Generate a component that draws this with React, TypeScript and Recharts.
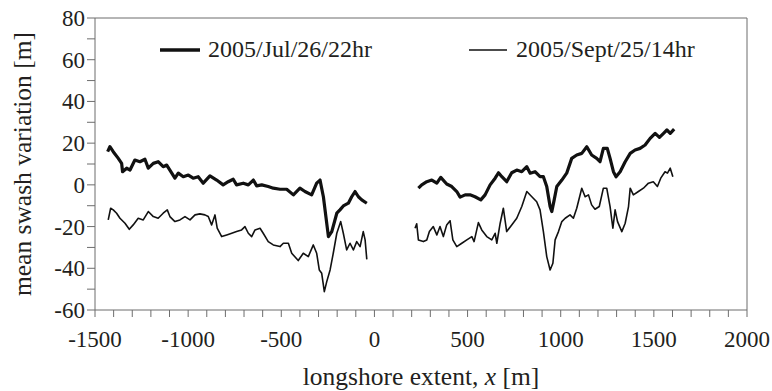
import React from "react";
import {
  LineChart,
  Line,
  XAxis,
  YAxis,
  ReferenceLine,
  Legend,
} from "recharts";

// longshore position [m] and mean swash variation [m], west and east stretches
const julWestX = [
  -1432, -1420, -1402, -1375, -1357, -1352, -1330, -1312, -1286, -1259, -1232, -1214, -1187, -1161, -1134,
  -1115, -1098, -1071, -1053, -1026, -999, -973, -946, -919, -883, -847, -812, -785, -758, -740,
  -704, -677, -650, -632, -605, -570, -543, -507, -471, -435, -400, -373, -337, -310, -292,
  -274, -247, -229, -202, -185, -167, -140, -122, -104, -86, -68, -41,
];
const julWestY = [
  15.9, 18.3, 15.9, 12.7, 10.3, 6.3, 8, 7.1, 11.9, 11.1, 12.3, 8, 10.3, 11.1, 8.7,
  9.5, 7.1, 3.2, 5.6, 3.9, 4.7, 3.2, 3.9, 0.8, 4.3, 2.3, 0, 1.5, 2.7, 0,
  0.8, 0, 2.3, -0.5, 0, -0.8, -1.6, -2.1, -2.1, -4.8, -1.6, -3.2, -4.8, 0.8, 2.3,
  -5.7, -24.8, -22.4, -13.6, -12, -10.1, -8.8, -5.7, -3.2, -5.7, -7.2, -8.8,
];
const julEastX = [
  236, 254, 281, 308, 335, 356, 388, 415, 442, 460, 487, 513, 540, 571, 594,
  621, 648, 666, 684, 710, 737, 764, 791, 818, 836, 862, 889, 907, 925, 943,
  952, 965, 979, 1006, 1032, 1059, 1086, 1113, 1140, 1166, 1193, 1211, 1229, 1250, 1265,
  1283, 1297, 1319, 1346, 1373, 1399, 1426, 1453, 1480, 1507, 1530, 1552, 1570, 1588, 1609,
];
const julEastY = [
  -1.6, 0, 1.5, 2.3, 0.8, 3.6, 0.4, -0.8, -3.2, -5.9, -4.8, -4.8, -5.7, -7.2, -4.8,
  0, 3.2, 5.8, 3.9, 1.5, 5.8, 7.1, 6.3, 8.7, 5.6, 6.3, 3.9, 3.9, -0.8, -10.4,
  -12.8, -7.2, -0.8, 2.3, 5.6, 12.7, 14.3, 15.1, 18.3, 14.3, 12.7, 11.1, 17.5, 17.5, 12.7,
  6.3, 3.9, 6.3, 11.1, 15.1, 16.7, 17.5, 19.1, 22.3, 24.7, 22.8, 24.7, 26.3, 24.7, 26.7,
];

const sepWestX = [
  -1429, -1416, -1402, -1384, -1366, -1339, -1316, -1295, -1268, -1241, -1214, -1187, -1161, -1134, -1112,
  -1098, -1071, -1044, -1017, -990, -963, -937, -910, -892, -874, -856, -844, -820, -793, -766,
  -740, -713, -695, -677, -659, -641, -614, -597, -570, -543, -507, -489, -462, -444, -409,
  -382, -355, -328, -310, -296, -283, -269, -256, -238, -221, -202, -181, -167, -149, -131,
  -113, -95, -77, -60, -50, -41,
];
const sepWestY = [
  -16.8, -11.2, -12, -13.6, -16, -18.4, -21.3, -19.2, -16, -16.8, -12.8, -15.2, -16, -13.6, -12,
  -15.2, -17.6, -16.8, -15.2, -16.8, -14.4, -13.9, -14.4, -15.2, -19.2, -14.4, -20.8, -24.8, -24, -23.2,
  -22.4, -21.6, -20, -23.2, -24.8, -21.6, -20.8, -23.2, -27.2, -28.8, -29.6, -28, -28, -32.8, -36.3,
  -32.8, -34.4, -28.8, -32.8, -40.8, -42.4, -51.2, -46.4, -40.8, -32.8, -23.2, -17.6, -23.2, -31.2, -28,
  -31.2, -27.2, -29.6, -22.4, -26.4, -35.7,
];
const sepEastX = [
  218, 227, 236, 263, 281, 295, 316, 335, 352, 370, 388, 406, 421, 442, 469,
  496, 523, 535, 558, 576, 603, 630, 648, 657, 675, 692, 710, 737, 764, 791,
  818, 845, 871, 889, 907, 925, 943, 958, 970, 988, 1006, 1024, 1050, 1068, 1086,
  1113, 1131, 1149, 1166, 1184, 1207, 1229, 1247, 1265, 1280, 1292, 1305, 1328, 1346, 1364,
  1373, 1390, 1417, 1444, 1471, 1497, 1519, 1537, 1560, 1573, 1588, 1602,
];
const sepEastY = [
  -20.8, -18.7, -26.4, -27.2, -26.4, -22.4, -20, -24, -20, -24.8, -19.2, -17.2, -26.4, -29.6, -28,
  -26.4, -24.8, -27.2, -18.1, -21.6, -24.8, -26.4, -23.2, -28, -18.4, -11.2, -22.4, -19.2, -16, -10.4,
  -3.2, -5.7, -8.1, -12, -22.4, -34.4, -40.8, -37.6, -26.4, -22.4, -17.6, -16, -14.4, -16, -11.2,
  -1.6, -5.7, -4.8, -9.6, -11.7, -10.4, -1.6, -1.6, -10.4, -20.8, -12, -17.6, -22.4, -18.4, -10.4,
  -1.6, -4.8, -3.2, -1.6, 0.8, 1.5, -0.8, 3.2, 6.3, 5.6, 8, 3.9,
];

const seriesNames = ["2005/Jul/26/22hr", "2005/Sept/25/14hr"];
const xLabels = [-1500, -1000, -500, 0, 500, 1000, 1500, 2000];
const yLabels = [-60, -40, -20, 0, 20, 40, 60, 80];
const GAP_X = 100; // no survey data between the two stretches

const xTicks: number[] = [];
for (let v = -1500; v <= 2000; v += 100) xTicks.push(v);
const yTicks: number[] = [];
for (let v = -60; v <= 80; v += 10) yTicks.push(v);

const toPoints = (xs: number[], ys: number[]) => xs.map((x, i) => ({ x, y: ys[i] }));
const julData = [
  ...toPoints(julWestX, julWestY),
  { x: GAP_X, y: null },
  ...toPoints(julEastX, julEastY),
];
const sepData = [
  ...toPoints(sepWestX, sepWestY),
  { x: GAP_X, y: null },
  ...toPoints(sepEastX, sepEastY),
];

const FONT = "'Liberation Serif', 'Times New Roman', serif";
const INK = "#231f20";
const AXIS = "#6d6d6d";

const XTick = ({ x, y, payload }: any) =>
  xLabels.includes(payload.value) ? (
    <text x={x} y={y + 28} textAnchor="middle" fontSize={23} fontFamily={FONT} fill={INK}>
      {payload.value}
    </text>
  ) : (
    <g />
  );

const YTick = ({ x, y, payload }: any) =>
  yLabels.includes(payload.value) ? (
    <text x={x} y={y + 8} textAnchor="end" fontSize={23} fontFamily={FONT} fill={INK}>
      {payload.value}
    </text>
  ) : (
    <g />
  );

const LegendBox = () => (
  <svg width={772} height={70}>
    <line x1={160} x2={200} y1={50} y2={50} stroke="#111" strokeWidth={3.5} />
    <text x={208} y={57} fontSize={24} fontFamily={FONT} fill={INK}>
      {seriesNames[0]}
    </text>
    <line x1={469} x2={507} y1={50} y2={50} stroke="#111" strokeWidth={1.6} />
    <text x={516} y={57} fontSize={24} fontFamily={FONT} fill={INK}>
      {seriesNames[1]}
    </text>
  </svg>
);

export default function App() {
  return (
    <div style={{ position: "absolute", left: 0, top: 0, background: "#fff" }}>
      <LineChart width={772} height={391} margin={{ top: 18, right: 25, left: 0, bottom: 0 }}>
        <XAxis
          type="number"
          dataKey="x"
          domain={[-1500, 2000]}
          ticks={xTicks}
          interval={0}
          height={81}
          stroke={AXIS}
          tickSize={7}
          tick={<XTick />}
          label={({ viewBox }: any) => (
            <text
              x={viewBox.x + viewBox.width / 2}
              y={viewBox.y + 75}
              textAnchor="middle"
              fontSize={25.5}
              fontFamily={FONT}
              fill={INK}
            >
              longshore extent, <tspan fontStyle="italic">x</tspan> [m]
            </text>
          )}
        />
        <YAxis
          type="number"
          domain={[-60, 80]}
          ticks={yTicks}
          interval={0}
          width={95}
          stroke={AXIS}
          tickSize={8}
          tick={<YTick />}
          label={({ viewBox }: any) => {
            const cx = 22;
            const cy = viewBox.y + viewBox.height / 2;
            return (
              <text
                x={cx}
                y={cy}
                transform={`rotate(-90 ${cx} ${cy})`}
                textAnchor="middle"
                dominantBaseline="central"
                fontSize={25.5}
                fontFamily={FONT}
                fill={INK}
              >
                mean swash variation [m]
              </text>
            );
          }}
        />
        <ReferenceLine y={80} stroke={AXIS} strokeWidth={1} />
        <ReferenceLine x={2000} stroke={AXIS} strokeWidth={1} />
        <Legend
          layout="horizontal"
          verticalAlign="middle"
          align="center"
          content={<LegendBox />}
          wrapperStyle={{ position: "absolute", left: 0, top: 0, width: 772, height: 70 }}
        />
        <Line
          data={julData}
          dataKey="y"
          name={seriesNames[0]}
          stroke="#111"
          strokeWidth={3.2}
          dot={false}
          isAnimationActive={false}
          strokeLinejoin="round"
        />
        <Line
          data={sepData}
          dataKey="y"
          name={seriesNames[1]}
          stroke="#111"
          strokeWidth={1.6}
          dot={false}
          isAnimationActive={false}
          strokeLinejoin="round"
        />
      </LineChart>
    </div>
  );
}
